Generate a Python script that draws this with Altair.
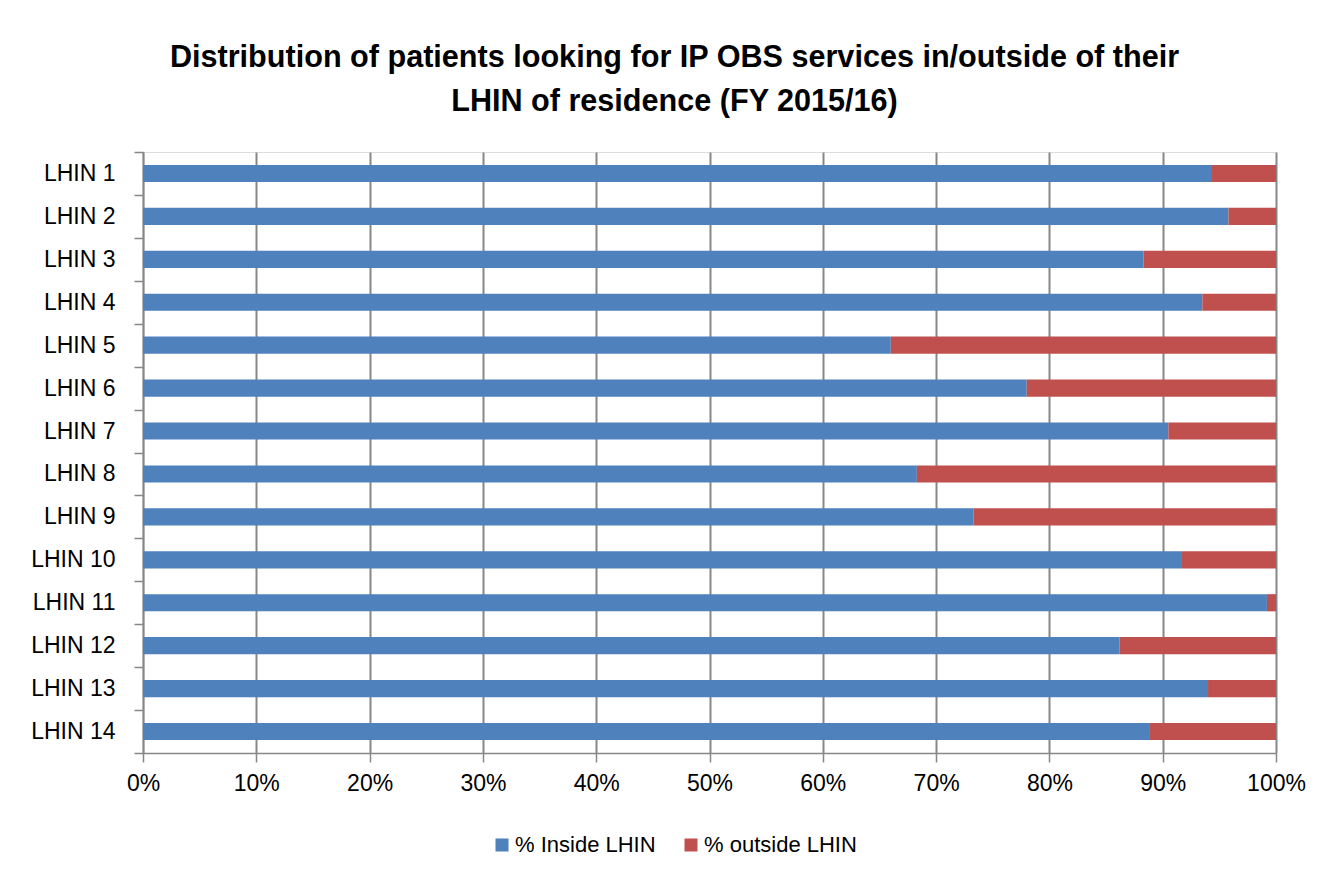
import altair as alt
import pandas as pd

categories = ["LHIN 1", "LHIN 2", "LHIN 3", "LHIN 4", "LHIN 5", "LHIN 6", "LHIN 7",
              "LHIN 8", "LHIN 9", "LHIN 10", "LHIN 11", "LHIN 12", "LHIN 13", "LHIN 14"]
inside_pct = [94.35, 95.8, 88.3, 93.5, 66.0, 78.0, 90.5, 68.3, 73.3, 91.7, 99.2, 86.2, 94.0, 88.8]
outside_pct = [5.65, 4.2, 11.7, 6.5, 34.0, 22.0, 9.5, 31.7, 26.7, 8.3, 0.8, 13.8, 6.0, 11.2]
series = ["% Inside LHIN", "% outside LHIN"]
colors = ["#4F81BD", "#C0504D"]
x_ticks = [0, 0.1, 0.2, 0.3, 0.4, 0.5, 0.6, 0.7, 0.8, 0.9, 1.0]

rows = []
for c, a, b in zip(categories, inside_pct, outside_pct):
    rows.append({"LHIN": c, "Series": series[0], "Value": a, "Order": 0})
    rows.append({"LHIN": c, "Series": series[1], "Value": b, "Order": 1})
df = pd.DataFrame(rows)

FONT = "Liberation Sans, Arial, sans-serif"
GRAY = "#878787"

chart = alt.Chart(df).mark_bar(height={"band": 0.4}).encode(
    y=alt.Y("LHIN:N", sort=categories, title=None,
            scale=alt.Scale(paddingInner=0, paddingOuter=0),
            axis=alt.Axis(tickBand="extent", tickSize=9, labelPadding=19,
                          labelFontSize=23, labelFont=FONT, labelColor="#000000",
                          domainColor=GRAY, domainWidth=1.5, tickColor=GRAY,
                          tickWidth=1.5, grid=False)),
    x=alt.X("Value:Q", stack="normalize", title=None,
            scale=alt.Scale(domain=[0, 1], nice=False),
            axis=alt.Axis(values=x_ticks, format=".0%", tickSize=9, labelPadding=10,
                          labelFontSize=23, labelFont=FONT, labelColor="#000000",
                          domainColor=GRAY, domainWidth=1.5, tickColor=GRAY,
                          tickWidth=1.5, grid=True, gridColor=GRAY, gridWidth=2,
                          gridOpacity=1, labelFlush=False)),
    color=alt.Color("Series:N", scale=alt.Scale(domain=series, range=colors),
                    legend=alt.Legend(title=None, orient="none", direction="horizontal",
                                      columns=2, legendX=348, legendY=682,
                                      symbolType="square", symbolSize=169,
                                      symbolStrokeWidth=0, labelFontSize=22,
                                      labelFont=FONT, labelColor="#000000",
                                      labelOffset=2, columnPadding=24, padding=0,
                                      labelLimit=400)),
    order=alt.Order("Order:Q"),
).properties(
    width=1133,
    height=601,
    title=alt.TitleParams(
        text=["Distribution of patients looking for IP OBS services in/outside of their",
              "LHIN of residence (FY 2015/16)"],
        font=FONT, fontSize=30.6, fontWeight="bold", color="#000000",
        anchor="middle", offset=23, dx=-35, lineHeight=44),
    autosize=alt.AutoSizeParams(type="none"),
    padding={"left": 135, "top": 144, "right": 30, "bottom": 110},
).configure_view(stroke=None).configure(background="white")

chart.save("out.html", embed_options={"renderer": "svg", "actions": False})
